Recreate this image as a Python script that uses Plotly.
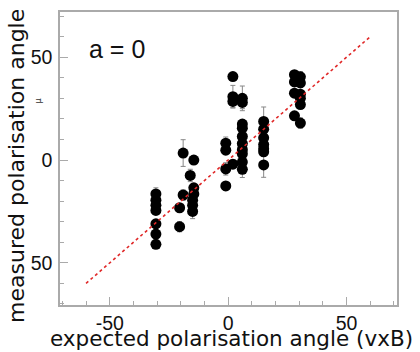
import plotly.graph_objects as go

# measured points (expected angle, measured angle, error)
exp_x = [-30.5, -30.5, -30.5, -30.5, -30.5, -30.5, -30.5,
         -20.5, -20.5, -19, -19,
         -16, -14.5, -14.5, -14.5, -15, -15, -15,
         -1, -1, -1, -1, 2, 2, 2, 2,
         6, 6, 6, 6, 6, 6, 6, 6, 6, 6,
         15, 15, 15, 15, 15, 15, 15,
         28, 28, 28, 28,
         30.5, 30.5, 30.5, 30.5, 30.5, 30.5]
meas_y = [-16.5, -19.5, -22, -24.5, -31, -36, -41,
          -23.2, -32.4, -17, 3.4,
          -7.5, 0, -13.5, -16.5, -19.5, -22, -25,
          8.2, 4.8, -4.3, -12.6, 40.6, 30.8, 28.5, -2,
          30, 28, 17.5, 15.5, 11.5, 8, 5, 3, -1, -4.5,
          18.8, 15, 10.8, 7.5, 5.5, 4, -2.4,
          41.5, 38, 32.5, 21.5,
          40.5, 37.5, 32, 30, 27, 18]
meas_err = [3, 2, 2, 2, 2, 2, 2,
            2, 2.5, 2.5, 6.5,
            3, 2, 2, 2, 2, 2, 3.5,
            3, 2, 3, 2, 1, 5.5, 3, 2,
            6, 3, 2, 2, 2, 2, 2, 2, 2, 4,
            7, 2, 2, 2, 2, 2, 6,
            2, 2, 2, 2,
            2.5, 2, 2, 2, 2, 2.5]

line_x = [-60, 60]
line_y = [-60, 60]

ytick_vals = [-50, 0, 50]
ytick_text = ["50", "0", "50"]
xtick_vals = [-50, 0, 50]
xtick_text = ["-50", "0", "50"]

fig = go.Figure()
fig.add_trace(go.Scatter(
    x=exp_x, y=meas_y, mode="markers",
    marker=dict(color="black", size=11),
    error_y=dict(type="data", array=meas_err, color="#888888", thickness=1, width=2.5),
    showlegend=False))
fig.add_trace(go.Scatter(
    x=line_x, y=line_y, mode="lines",
    line=dict(color="#e02828", width=1.6, dash="dot"),
    showlegend=False))

axis_common = dict(showgrid=False, zeroline=False, showline=True, linecolor="#aaaaaa",
                   linewidth=1.5, mirror=True, ticks="inside", ticklen=8, tickcolor="#aaaaaa",
                   tickwidth=1,
                   minor=dict(dtick=10, ticks="inside", ticklen=4, tickcolor="#aaaaaa"),
                   tickfont=dict(family="Liberation Sans", size=19.5, color="#111"))

fig.update_xaxes(range=[-71, 71.3], tickvals=xtick_vals, ticktext=xtick_text, ticklabelstandoff=0,
                 **axis_common)
fig.update_yaxes(range=[-70.5, 72], tickvals=ytick_vals, ticktext=ytick_text, ticklabelstandoff=2,
                 **axis_common)

fig.update_layout(
    width=420, height=352,
    margin=dict(l=60, r=23, t=10, b=47),
    paper_bgcolor="white", plot_bgcolor="white",
)


def px(xp):
    return (xp - 60) / 337.0


def py(yp):
    return (305 - yp) / 295.0


common_ann = dict(xref="paper", yref="paper", showarrow=False, xanchor="center", yanchor="middle")
fig.add_annotation(text="a = 0", x=px(117), y=py(47),
                   font=dict(family="Liberation Sans", size=25, color="#111"), **common_ann)
fig.add_annotation(text="expected polarisation angle (vxB)", x=px(231), y=py(339),
                   font=dict(family="DejaVu Sans", size=21.5, color="#111"), **common_ann)
fig.add_annotation(text="measured polarisation angle", x=px(17), y=py(165), textangle=-90,
                   font=dict(family="DejaVu Sans", size=22, color="#111"), **common_ann)
fig.add_annotation(text="μ", x=px(38), y=py(100), textangle=-90,
                   font=dict(family="DejaVu Sans", size=8, color="#333"), **common_ann)

fig.write_html("out.html")
